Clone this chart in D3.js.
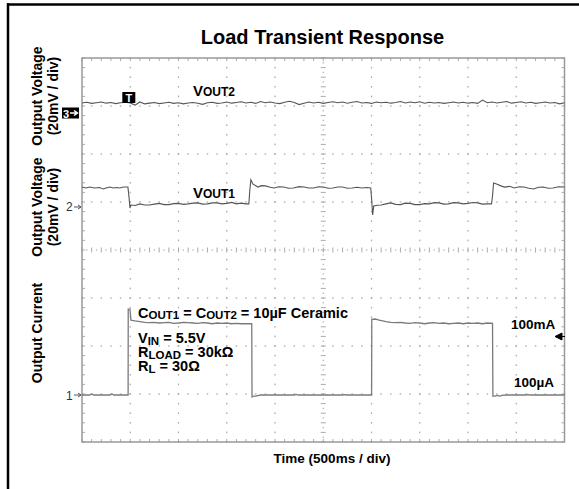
<!DOCTYPE html>
<html><head><meta charset="utf-8">
<script src="https://cdn.jsdelivr.net/npm/d3@7"></script>
<style>html,body{margin:0;padding:0;background:#fff;}svg{display:block;}</style>
</head><body>
<script>
// ---- data ----
const title = "Load Transient Response";
const xLabel = "Time (500ms / div)";
const timeDomainMs = [0, 5000];      // 10 div x 500 ms
const divTicksMs = [0,500,1000,1500,2000,2500,3000,3500,4000,4500,5000];
const vDivs = [0,1,2,3,4,5,6,7,8];
const mVperDiv = 20;
const mAperDiv = 66;

// VOUT2 (mV relative to channel-3 reference), sampled every 50 ms
const vout2SampleMs = 50;
const vout2 = [
 4.2,4.5,4.0,4.3,4.6,4.1,4.4,3.9,4.3,4.5,
 4.2,3.3,4.6,3.8,4.1,4.4,3.9,4.2,4.5,4.0,
 4.3,3.8,4.2,4.4,4.1,3.6,4.3,4.5,4.0,4.2,
 4.6,4.1,4.4,4.7,4.2,4.5,4.0,4.8,4.3,4.6,
 4.2,3.9,4.5,4.9,4.4,3.5,4.1,4.6,4.2,4.5,
 4.0,4.4,4.7,4.3,4.6,4.1,4.5,4.8,4.2,4.4,
 4.0,4.6,4.3,4.5,4.1,4.4,4.8,4.2,4.6,4.3,
 4.7,4.1,4.5,4.2,4.4,4.0,4.3,4.6,4.2,4.5,
 4.1,4.4,4.0,5.4,4.3,4.6,4.2,4.5,4.8,4.1,
 4.4,4.7,4.2,4.5,4.0,4.3,4.6,4.2,4.4,3.8,4.3];

// VOUT1: [ms, mV relative to channel-2 reference]
const vout1 = [
 [0,8.3],[40,7.9],[80,8.3],[130,7.9],[180,8.1],[220,7.5],[250,7.9],[290,8.3],[320,7.9],[360,8.1],
 [390,7.9],[430,8.3],[460,8.3],[476,8.3],[487,4.2],[497,-0.4],[507,0.8],[550,0.6],[600,1.3],[650,0.8],
 [700,0.8],[750,1.2],[800,1.5],[850,1.0],[900,1.0],[950,1.4],[1000,1.5],[1050,1.1],[1100,1.3],[1150,1.6],
 [1200,1.7],[1250,1.2],[1300,1.3],[1350,1.7],[1400,1.7],[1450,1.3],[1500,1.5],[1550,1.9],[1600,1.3],[1650,1.6],
 [1700,1.3],[1729,1.3],[1739,7.1],[1750,11.3],[1770,9.6],[1822,8.3],[1860,8.9],[1900,8.8],[1950,8.2],[1990,7.9],
 [2040,8.4],[2090,8.3],[2140,7.8],[2190,7.9],[2250,8.5],[2300,8.3],[2350,7.9],[2400,7.9],[2450,8.4],[2500,8.3],
 [2550,7.8],[2600,7.9],[2650,8.3],[2700,8.3],[2750,7.8],[2800,7.9],[2850,8.2],[2900,7.9],[2950,8.1],[2992,7.9],
 [3002,2.9],[3012,-3.3],[3023,0.4],[3060,0.7],[3100,0.8],[3150,1.3],[3200,1.7],[3250,1.1],[3300,1.0],[3350,1.6],
 [3400,1.5],[3450,1.0],[3500,1.0],[3550,1.4],[3600,1.3],[3650,1.8],[3700,1.7],[3750,1.2],[3800,1.3],[3850,1.8],
 [3900,1.7],[3950,1.3],[4000,1.5],[4050,1.9],[4100,1.7],[4150,1.2],[4200,1.3],[4244,1.3],[4255,5.0],[4265,10.0],
 [4296,9.6],[4340,8.8],[4380,8.3],[4430,8.6],[4480,7.9],[4530,8.4],[4580,8.3],[4630,7.8],[4680,7.5],[4730,8.2],
 [4780,8.3],[4830,7.8],[4880,7.9],[4940,8.4],[5000,8.3]];

// Output current: [ms, mA]
const current = [
 [0,0],[80,0],[100,1.4],[120,0],[290,0],[310,1.4],[330,0],[478,0],[479,118],[497,118],
 [507,103],[550,102],[600,101],[650,100],[700,99.5],[750,100],[800,99],[850,99.5],[900,100],[950,98.5],
 [1000,99],[1050,100],[1100,99.5],[1150,99],[1200,98.5],[1250,99.5],[1300,99],[1350,98],[1400,99],[1450,98.5],
 [1500,99],[1550,98],[1600,98.5],[1650,98],[1700,98],[1759,98],[1762,-2.7],[1780,-1.4],[1800,-1.4],[1850,0],
 [2000,0],[2200,0],[2220,0.8],[2240,0],[2500,0],[2700,0],[2720,0.6],[2740,0],[3001,0],[3003,104],
 [3040,104.5],[3080,103],[3150,101],[3200,100],[3250,99.5],[3300,100],[3350,99],[3400,98.5],[3450,99.5],[3500,99],
 [3550,98],[3600,99],[3650,99.5],[3700,98.5],[3750,99],[3800,98],[3850,98.5],[3900,99],[3950,98],[4000,99],
 [4050,98.5],[4100,99],[4150,98],[4200,99],[4254,98.5],[4258,-1.4],[4280,-1.4],[4300,-0.5],[4330,-1.4],[4350,-0.5],
 [4400,0],[4600,0],[4620,0.7],[4640,0],[4800,0],[5000,0]];

// ---- layout ----
const W = 579, H = 489;
const L = 82, R = 564.5, T = 58, B = 442;
const ch3Ref = 6.854, ch2Ref = 4.896, ch1Ref = 0.979; // reference positions in divisions
const font = "'Liberation Sans', Arial, Helvetica, sans-serif";

const svg = d3.select("body").append("svg").attr("width", W).attr("height", H)
  .style("background", "#fff").attr("font-family", font);

const x = d3.scaleLinear().domain(timeDomainMs).range([L, R]);
const y = d3.scaleLinear().domain([0, 8]).range([B, T]);
const minorMs = 100;

// outer frame (top and left edges)
svg.append("line").attr("x1", 7).attr("x2", W).attr("y1", 4.5).attr("y2", 4.5).attr("stroke", "#000").attr("stroke-width", 2.5);
svg.append("line").attr("x1", 8).attr("x2", 8).attr("y1", 3.3).attr("y2", H).attr("stroke", "#000").attr("stroke-width", 2.5);

const grid = svg.append("g").attr("fill", "#a8a8a8");
const minorX = d3.range(0, 5000 + 1, minorMs);
const minorY = d3.range(0, 8.001, 0.2);

// dotted major grid lines
divTicksMs.slice(1, -1).forEach(t => {
  if (t === 2500) return;
  minorY.forEach(v => grid.append("rect").attr("x", x(t) - 0.6).attr("y", y(v) - 0.8).attr("width", 1.2).attr("height", 1.6));
});
vDivs.slice(1, -1).forEach(d => {
  if (d === 4) return;
  minorX.forEach(t => grid.append("rect").attr("x", x(t) - 0.8).attr("y", y(d) - 0.6).attr("width", 1.6).attr("height", 1.2));
});
// center cross with ticks
const cg = svg.append("g").attr("stroke", "#aaa").attr("stroke-width", 1);
minorX.forEach(t => cg.append("line").attr("x1", x(t)).attr("x2", x(t)).attr("y1", y(4) - 2.5).attr("y2", y(4) + 2.5));
d3.range(50, 5000, 100).forEach(t => grid.append("rect").attr("x", x(t) - 0.6).attr("y", y(4) - 0.6).attr("width", 1.2).attr("height", 1.2));
minorY.forEach(v => cg.append("line").attr("x1", x(2500) - 2.5).attr("x2", x(2500) + 2.5).attr("y1", y(v)).attr("y2", y(v)));
d3.range(0.1, 8, 0.2).forEach(v => grid.append("rect").attr("x", x(2500) - 0.6).attr("y", y(v) - 0.6).attr("width", 1.2).attr("height", 1.2));
// edge ticks
minorX.forEach(t => {
  cg.append("line").attr("x1", x(t)).attr("x2", x(t)).attr("y1", T).attr("y2", T + 3);
  cg.append("line").attr("x1", x(t)).attr("x2", x(t)).attr("y1", B).attr("y2", B - 3);
});
minorY.forEach(v => {
  cg.append("line").attr("x1", L).attr("x2", L + 3).attr("y1", y(v)).attr("y2", y(v));
  cg.append("line").attr("x1", R).attr("x2", R - 3).attr("y1", y(v)).attr("y2", y(v));
});
// plot border
svg.append("rect").attr("x", L).attr("y", T).attr("width", R - L).attr("height", B - T)
  .attr("fill", "none").attr("stroke", "#999").attr("stroke-width", 1.5);

// traces
const line = d3.line().x(d => x(d[0])).y(d => y(d[1]));
const v2pts = vout2.map((v, i) => [i * vout2SampleMs, ch3Ref + v / mVperDiv]);
const v1pts = vout1.map(d => [d[0], ch2Ref + d[1] / mVperDiv]);
const ipts = current.map(d => [d[0], ch1Ref + d[1] / mAperDiv]);
svg.append("path").attr("d", line(ipts)).attr("fill", "none").attr("stroke", "#7a7a7a").attr("stroke-width", 1.3);
svg.append("path").attr("d", line(v1pts)).attr("fill", "none").attr("stroke", "#555").attr("stroke-width", 1.1);
svg.append("path").attr("d", line(v2pts)).attr("fill", "none").attr("stroke", "#555").attr("stroke-width", 1.1);

// trigger marker
const tx = x(480);
svg.append("rect").attr("x", tx - 6).attr("y", 92).attr("width", 13).attr("height", 11).attr("fill", "#000");
svg.append("text").attr("x", tx + 0.5).attr("y", 102).attr("text-anchor", "middle").attr("fill", "#fff")
  .attr("font-size", 11).attr("font-weight", "bold").text("T");

// channel markers
svg.append("rect").attr("x", 62).attr("y", y(ch3Ref) - 5.5).attr("width", 17).attr("height", 11).attr("fill", "#000");
svg.append("text").attr("x", 63).attr("y", y(ch3Ref) + 4.5).attr("fill", "#fff").attr("font-size", 11).attr("font-weight", "bold").text("3");
svg.append("path").attr("d", `M70,${y(ch3Ref)} L77,${y(ch3Ref)} M74,${y(ch3Ref)-2.5} L77.5,${y(ch3Ref)} L74,${y(ch3Ref)+2.5}`)
  .attr("stroke", "#fff").attr("stroke-width", 1.5).attr("fill", "none");
[[ch2Ref, "2"], [ch1Ref, "1"]].forEach(([r, lab]) => {
  const yy = y(r);
  svg.append("text").attr("x", 66).attr("y", yy + 4.5).attr("fill", "#333").attr("font-size", 12).text(lab);
  svg.append("path").attr("d", `M74,${yy} L81,${yy} M78,${yy-2} L81,${yy} L78,${yy+2}`)
    .attr("stroke", "#555").attr("stroke-width", 1).attr("fill", "none");
});

// title
svg.append("text").attr("x", 322.5).attr("y", 44).attr("text-anchor", "middle")
  .attr("font-size", 20).attr("font-weight", "bold").text(title);
// x label
svg.append("text").attr("x", 332).attr("y", 462.5).attr("text-anchor", "middle")
  .attr("font-size", 13.5).attr("font-weight", "bold").text(xLabel);

// y labels
function vlabel(cy, lines) {
  lines.forEach(([txt, bx]) => {
    svg.append("text").attr("transform", `translate(${bx},${cy}) rotate(-90)`)
      .attr("text-anchor", "middle").attr("font-size", 14).attr("font-weight", "bold").text(txt);
  });
}
vlabel(96, [["Output Voltage", 41.5], ["(20mV / div)", 58]]);
vlabel(207, [["Output Voltage", 41.5], ["(20mV / div)", 58]]);
vlabel(333, [["Output Current", 41.5]]);

// annotations
function rich(xp, yp, parts, size) {
  const t = svg.append("text").attr("x", xp).attr("y", yp).attr("font-weight", "bold").attr("font-size", size);
  parts.forEach(p => {
    const s = t.append("tspan").text(p[0]);
    if (p[1]) s.attr("font-size", p[1]);
    if (p[2]) s.attr("dy", p[2]);
  });
  return t;
}
rich(193, 96, [["V"], ["OUT2", 12]], 15);
rich(193, 198, [["V"], ["OUT1", 12]], 15);
rich(138, 318, [["C"], ["OUT1", 11.5, 1], [" = C", null, -1], ["OUT2", 11.5, 1], [" = 10µF Ceramic", null, -1]], 14.5);
rich(138, 343, [["V"], ["IN", 11.5, 2], [" = 5.5V", null, -2]], 14.5);
rich(138, 357, [["R"], ["LOAD", 11.5, 2], [" = 30kΩ", null, -2]], 14.5);
rich(138, 371, [["R"], ["L", 11.5, 2], [" = 30Ω", null, -2]], 14.5);
svg.append("text").attr("x", 511).attr("y", 328.5).attr("font-size", 13.5).attr("font-weight", "bold").text("100mA");
svg.append("text").attr("x", 514).attr("y", 387).attr("font-size", 13.5).attr("font-weight", "bold").text("100µA");
svg.append("path").attr("d", "M555,336.5 L562,333 L562,340 Z M561,336.5 L565,336.5").attr("fill", "#000").attr("stroke", "#000").attr("stroke-width", 1);
</script>
</body></html>
